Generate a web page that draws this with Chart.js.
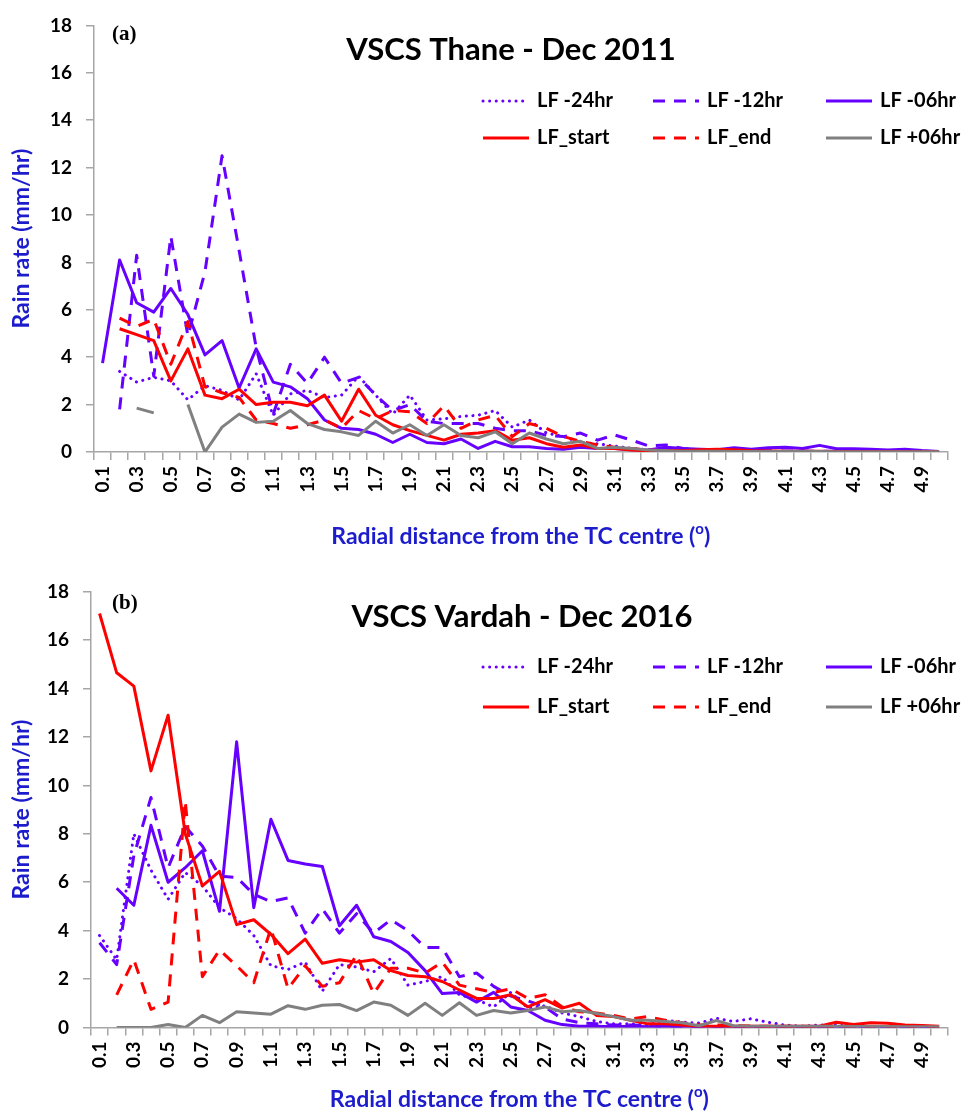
<!DOCTYPE html>
<html>
<head>
<meta charset="utf-8">
<title>Rain rate vs radial distance</title>
<script src="https://cdn.jsdelivr.net/npm/chart.js@4.4.0/dist/chart.umd.min.js"></script>
<style>
  body { margin: 0; background: #fff; }
  canvas { display: block; }
</style>
</head>
<body>
<canvas id="chartA" width="968" height="557"></canvas>
<canvas id="chartB" width="968" height="556"></canvas>
<script>
// ── Datos ──────────────────────────────────────────────────────────────────
const distancias = [
  '0.1','0.2','0.3','0.4','0.5','0.6','0.7','0.8','0.9','1.0',
  '1.1','1.2','1.3','1.4','1.5','1.6','1.7','1.8','1.9','2.0',
  '2.1','2.2','2.3','2.4','2.5','2.6','2.7','2.8','2.9','3.0',
  '3.1','3.2','3.3','3.4','3.5','3.6','3.7','3.8','3.9','4.0',
  '4.1','4.2','4.3','4.4','4.5','4.6','4.7','4.8','4.9','5.0'
];
const yTicks = [0, 2, 4, 6, 8, 10, 12, 14, 16, 18];
const seriesNombres = ['LF -24hr', 'LF -12hr', 'LF -06hr', 'LF_start', 'LF_end', 'LF +06hr'];

// (a) VSCS Thane - Dec 2011
const thane24 = [null, 3.4, 2.95, 3.15, 3.0, 2.2, 2.8, 2.6, 2.2, 3.3,
  1.55, 2.45, 2.6, 2.3, 2.4, 3.2, 2.4, 1.6, 2.4, 1.35,
  1.4, 1.5, 1.55, 1.75, 1.05, 1.35, 0.8, 0.65, 0.4, 0.35,
  0.25, 0.15, 0.1, 0.08, 0.05, 0.05, 0.04, 0.04, 0.03, 0.03,
  0.03, 0.03, 0.02, 0.02, 0.02, 0.02, 0.02, 0.01, 0.01, 0.01];
const thane12 = [null, 1.8, 8.3, 3.2, 9.1, 4.9, 7.6, 12.5, 8.5, 4.4,
  1.6, 3.7, 2.9, 4.0, 2.9, 3.15, 2.4, 1.75, 2.0, 1.3,
  1.2, 1.2, 1.2, 1.0, 0.9, 0.9, 0.7, 0.65, 0.8, 0.5,
  0.72, 0.5, 0.25, 0.3, 0.15, 0.1, 0.08, 0.06, 0.05, 0.05,
  0.04, 0.04, 0.03, 0.03, 0.03, 0.02, 0.02, 0.02, 0.01, 0.01];
const thane06 = [3.75, 8.1, 6.3, 5.9, 6.9, 5.8, 4.1, 4.7, 2.7, 4.35,
  2.95, 2.75, 2.25, 1.35, 1.0, 0.95, 0.75, 0.4, 0.75, 0.4,
  0.35, 0.55, 0.15, 0.45, 0.22, 0.22, 0.15, 0.12, 0.2, 0.15,
  0.15, 0.1, 0.08, 0.2, 0.15, 0.12, 0.1, 0.18, 0.12, 0.18,
  0.2, 0.15, 0.28, 0.14, 0.14, 0.12, 0.08, 0.12, 0.06, 0.02];
const thaneStart = [null, 5.2, 4.95, 4.7, 3.0, 4.35, 2.4, 2.25, 2.65, 2.0,
  2.1, 2.1, 1.95, 2.4, 1.3, 2.65, 1.55, 1.15, 0.9, 0.7,
  0.5, 0.75, 0.8, 0.9, 0.5, 0.6, 0.35, 0.2, 0.3, 0.15,
  0.15, 0.08, 0.05, 0.05, 0.05, 0.1, 0.12, 0.1, 0.05, 0.04,
  0.03, 0.03, 0.03, 0.02, 0.02, 0.02, 0.02, 0.02, 0.01, 0.01];
const thaneEnd = [null, 5.65, 5.3, 5.6, 3.7, 5.5, 2.75, 2.5, 2.3, 1.35,
  1.2, 1.0, 1.15, 1.35, 1.0, 1.75, 1.4, 1.75, 1.7, 1.2,
  1.95, 1.0, 1.35, 1.55, 0.65, 1.2, 1.0, 0.65, 0.45, 0.3,
  0.2, 0.15, 0.08, 0.05, 0.05, 0.04, 0.04, 0.03, 0.03, 0.03,
  0.02, 0.02, 0.02, 0.02, 0.02, 0.01, 0.01, 0.01, 0.01, 0.01];
const thaneMas06 = [null, null, 1.85, 1.65, null, 2.0, 0.0, 1.05, 1.6, 1.25,
  1.3, 1.75, 1.2, 0.95, 0.85, 0.7, 1.3, 0.8, 1.15, 0.7,
  1.15, 0.7, 0.6, 0.85, 0.35, 0.8, 0.55, 0.35, 0.45, 0.15,
  0.2, 0.15, 0.08, 0.05, 0.03, 0.03, 0.03, 0.02, 0.02, 0.02,
  0.02, 0.02, 0.02, 0.01, 0.01, 0.01, 0.01, 0.01, 0.01, 0.01];

// (b) VSCS Vardah - Dec 2016
const vardah24 = [3.8, 2.8, 8.0, 6.5, 5.3, 6.4, 5.85, 4.95, 4.5, 3.8,
  2.55, 2.4, 2.7, 1.5, 2.6, 2.5, 2.3, 2.85, 1.75, 1.9,
  2.1, 1.35, 1.15, 0.85, 1.45, 0.8, 0.9, 0.6, 0.45, 0.25,
  0.15, 0.15, 0.1, 0.3, 0.22, 0.18, 0.38, 0.25, 0.36, 0.22,
  0.1, 0.05, 0.1, 0.1, 0.05, 0.04, 0.04, 0.03, 0.03, 0.02];
const vardah12 = [3.5, 2.6, 7.1, 9.5, 6.6, 8.3, 7.5, 6.25, 6.2, 5.5,
  5.2, 5.35, 3.9, 4.9, 3.9, 4.7, 3.9, 4.45, 4.0, 3.3,
  3.3, 2.1, 2.25, 1.7, 1.3, 1.1, 0.85, 0.35, 0.2, 0.15,
  0.1, 0.1, 0.08, 0.05, 0.05, 0.04, 0.04, 0.03, 0.03, 0.03,
  0.02, 0.02, 0.02, 0.02, 0.02, 0.01, 0.01, 0.01, 0.01, 0.01];
const vardah06 = [null, 5.75, 5.05, 8.35, 6.0, 6.6, 7.3, 4.8, 11.8, 4.95,
  8.6, 6.9, 6.75, 6.65, 4.2, 5.05, 3.75, 3.55, 3.1, 2.35,
  1.4, 1.45, 1.05, 1.45, 0.85, 0.7, 0.3, 0.12, 0.05, 0.05,
  0.03, 0.05, 0.03, 0.05, 0.03, 0.03, 0.03, 0.02, 0.02, 0.02,
  0.02, 0.02, 0.02, 0.02, 0.01, 0.01, 0.01, 0.01, 0.01, 0.01];
const vardahStart = [17.1, 14.65, 14.1, 10.6, 12.9, 8.0, 5.85, 6.45, 4.25, 4.45,
  3.85, 3.05, 3.65, 2.65, 2.8, 2.7, 2.8, 2.35, 2.15, 2.1,
  1.9, 1.55, 1.2, 1.2, 1.35, 0.85, 1.15, 0.8, 1.0, 0.5,
  0.45, 0.3, 0.15, 0.15, 0.1, 0.05, 0.05, 0.05, 0.05, 0.05,
  0.05, 0.05, 0.05, 0.22, 0.12, 0.2, 0.18, 0.1, 0.08, 0.05];
const vardahEnd = [null, 1.35, 2.8, 0.75, 1.05, 9.35, 2.1, 3.2, 2.55, 1.85,
  4.1, 1.6, 2.55, 1.7, 1.85, 3.0, 1.4, 2.45, 2.45, 2.25,
  2.7, 1.75, 1.6, 1.45, 1.6, 1.2, 1.35, 0.85, 0.65, 0.6,
  0.5, 0.35, 0.45, 0.3, 0.2, 0.1, 0.1, 0.08, 0.06, 0.05,
  0.05, 0.05, 0.04, 0.04, 0.04, 0.03, 0.03, 0.03, 0.02, 0.02];
const vardahMas06 = [null, 0, 0, 0, 0.12, 0, 0.5, 0.2, 0.65, 0.6,
  0.55, 0.9, 0.75, 0.92, 0.95, 0.7, 1.05, 0.92, 0.5, 1.0,
  0.5, 1.02, 0.5, 0.7, 0.6, 0.7, 0.85, 0.65, 0.7, 0.58,
  0.45, 0.3, 0.3, 0.25, 0.2, 0.07, 0.29, 0.07, 0.05, 0.05,
  0.05, 0.05, 0.05, 0.05, 0.04, 0.04, 0.04, 0.03, 0.03, 0.03];

// ── Estilos ────────────────────────────────────────────────────────────────
const MORADO = '#6600FF';
const ROJO   = '#FF0000';
const GRIS   = '#808080';
const AZUL   = '#1C1CCC';
const EJE    = '#A6A6A6';
const FUENTE = 'Lato, "Open Sans", sans-serif';

const estilos = [
  { borderColor: MORADO, borderDash: [0.1, 6.5], borderCapStyle: 'round' },
  { borderColor: MORADO, borderDash: [12, 9] },
  { borderColor: MORADO },
  { borderColor: ROJO },
  { borderColor: ROJO, borderDash: [12, 9] },
  { borderColor: GRIS },
];

// ── Plugin: título, etiqueta del panel, leyenda y título X ─────────────────
const panelPlugin = {
  id: 'panelDeco',
  afterDraw(chart, args, o) {
    const ctx = chart.ctx;
    const area = chart.chartArea;
    ctx.save();
    ctx.fillStyle = '#000';
    ctx.textBaseline = 'middle';

    ctx.font = `bold 31px ${FUENTE}`;
    ctx.textAlign = 'center';
    ctx.fillText(o.titulo, o.tituloX, o.tituloY);

    ctx.font = 'bold 21px "Liberation Serif", serif';
    ctx.textAlign = 'left';
    ctx.fillText(o.tag, 112, o.tagY);

    const colX = [483, 653, 826];
    chart.data.datasets.forEach((ds, i) => {
      const y  = o.leyendaY[Math.floor(i / 3)];
      const x0 = colX[i % 3];
      ctx.beginPath();
      ctx.setLineDash(ds.borderDash || []);
      ctx.lineCap     = ds.borderCapStyle || 'butt';
      ctx.lineWidth   = ds.borderWidth;
      ctx.strokeStyle = ds.borderColor;
      ctx.moveTo(x0, y);
      ctx.lineTo(x0 + 46, y);
      ctx.stroke();
      ctx.setLineDash([]);
      ctx.font = `bold 20px ${FUENTE}`;
      ctx.fillStyle = '#000';
      ctx.fillText(ds.label, x0 + 54, y);
    });

    // título X con superíndice
    const t1 = 'Radial distance from the TC centre (';
    ctx.fillStyle = AZUL;
    ctx.font = `bold 23px ${FUENTE}`;
    const w1 = ctx.measureText(t1).width;
    const w3 = ctx.measureText(')').width;
    ctx.font = `bold 15px ${FUENTE}`;
    const w2 = ctx.measureText('o').width;
    let x = (area.left + area.right) / 2 - (w1 + w2 + w3) / 2;
    ctx.font = `bold 23px ${FUENTE}`;
    ctx.fillText(t1, x, o.xTituloY);
    ctx.font = `bold 15px ${FUENTE}`;
    ctx.fillText('o', x + w1, o.xTituloY - 8);
    ctx.font = `bold 23px ${FUENTE}`;
    ctx.fillText(')', x + w1 + w2, o.xTituloY);
    ctx.restore();
  }
};

// ── Fábrica de gráfica ─────────────────────────────────────────────────────
function crearPanel(canvasId, series, p) {
  const datasets = series.map((d, i) => Object.assign({
    label: seriesNombres[i],
    data: d,
    borderWidth: 3,
    pointRadius: 0,
    tension: 0,
    fill: false,
    borderJoinStyle: 'round',
    order: 6 - i,
  }, estilos[i]));

  new Chart(document.getElementById(canvasId), {
    type: 'line',
    data: { labels: distancias, datasets: datasets },
    plugins: [panelPlugin],
    options: {
      responsive: false,
      animation: false,
      layout: { padding: { left: 0, top: p.top, right: p.right, bottom: 0 } },
      plugins: {
        legend: { display: false },
        tooltip: { enabled: false },
        panelDeco: p,
      },
      scales: {
        x: {
          offset: true,
          afterFit: s => { s.height = p.ejeH; },
          grid: { drawOnChartArea: false, offset: true, color: EJE, lineWidth: 1.5, tickLength: 8 },
          border: { color: EJE, width: 1.5 },
          ticks: {
            autoSkip: false,
            minRotation: 90,
            maxRotation: 90,
            padding: 6,
            color: '#000',
            font: { family: FUENTE, size: 19, weight: 'bold' },
            callback: (v, i) => (i % 2 === 0 ? distancias[i] : ''),
          },
        },
        y: {
          min: 0,
          max: 18,
          afterFit: s => { s.width = p.ejeW; },
          afterBuildTicks: s => { s.ticks = yTicks.map(v => ({ value: v })); },
          grid: { drawOnChartArea: false, color: EJE, lineWidth: 1.5, tickLength: 8 },
          border: { color: EJE, width: 1.5 },
          ticks: {
            padding: 14,
            color: '#000',
            font: { family: FUENTE, size: 19, weight: 'bold' },
          },
          title: {
            display: true,
            text: 'Rain rate (mm/hr)',
            color: AZUL,
            font: { family: FUENTE, size: 23, weight: 'bold' },
            padding: { top: 8, bottom: 0 },
          },
        },
      },
    },
  });
}

crearPanel('chartA',
  [thane24, thane12, thane06, thaneStart, thaneEnd, thaneMas06],
  { titulo: 'VSCS Thane - Dec 2011', tag: '(a)', tituloX: 511, tituloY: 50, tagY: 35,
    leyendaY: [101, 138], xTituloY: 537, top: 22.5, right: 13, ejeW: 94, ejeH: 105 });

crearPanel('chartB',
  [vardah24, vardah12, vardah06, vardahStart, vardahEnd, vardahMas06],
  { titulo: 'VSCS Vardah - Dec 2016', tag: '(b)', tituloX: 522, tituloY: 60, tagY: 47,
    leyendaY: [110, 150], xTituloY: 543, top: 34.7, right: 7, ejeW: 91, ejeH: 85.5 });
</script>
</body>
</html>
